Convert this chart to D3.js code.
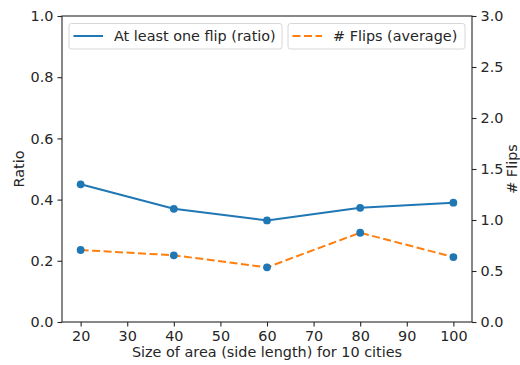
<!DOCTYPE html>
<html>
<head>
<meta charset="utf-8">
<script src="https://cdn.jsdelivr.net/npm/d3@7"></script>
<style>
  body { margin: 0; background: #fff; }
  svg text { font-family: "DejaVu Sans", sans-serif; fill: #262626; }
</style>
</head>
<body>
<div id="chart"></div>
<script>
// data
const sizes = [20, 40, 60, 80, 100];
const ratioVals = [0.450, 0.370, 0.332, 0.373, 0.390];
const flipVals = [0.706, 0.654, 0.536, 0.875, 0.637];
const xTicks = [20, 30, 40, 50, 60, 70, 80, 90, 100];
const leftTicks = [0, 0.2, 0.4, 0.6, 0.8, 1.0];
const rightTicks = [0, 0.5, 1.0, 1.5, 2.0, 2.5, 3.0];

const W = 520, H = 365;
const margin = {top: 16, right: 48, bottom: 43, left: 62};
const width = W - margin.left - margin.right,
      height = H - margin.top - margin.bottom;

const svg = d3.select("#chart").append("svg")
    .attr("width", W).attr("height", H);
const g = svg.append("g").attr("transform", "translate(" + margin.left + "," + margin.top + ")");

const x = d3.scaleLinear().domain([16, 104]).range([0, width]);
const yL = d3.scaleLinear().domain([0, 1]).range([height, 0]);
const yR = d3.scaleLinear().domain([0, 3]).range([height, 0]);

const fs = 14.4;
const dash = "8,3.5";
// axes
const xAxis = g.append("g").attr("transform", "translate(0," + height + ")")
    .call(d3.axisBottom(x).tickValues(xTicks).tickFormat(d3.format("d")).tickSizeOuter(0).tickSize(4.5).tickPadding(4));
const lAxis = g.append("g")
    .call(d3.axisLeft(yL).tickValues(leftTicks).tickFormat(d3.format(".1f")).tickSizeOuter(0).tickSize(4.5).tickPadding(4));
const rAxis = g.append("g").attr("transform", "translate(" + width + ",0)")
    .call(d3.axisRight(yR).tickValues(rightTicks).tickFormat(d3.format(".1f")).tickSizeOuter(0).tickSize(4.5).tickPadding(4));
[xAxis, lAxis, rAxis].forEach(a => {
  a.selectAll("text").style("font-size", fs + "px").style("font-family", "DejaVu Sans").attr("fill", "#262626");
  a.selectAll("line").attr("stroke", "#262626").attr("stroke-width", 1.1);
  a.select(".domain").remove();
});
// frame
g.append("rect").attr("width", width).attr("height", height)
    .attr("fill", "none").attr("stroke", "#262626").attr("stroke-width", 1.1);

// lines
const lineL = d3.line().x((d, i) => x(sizes[i])).y(d => yL(d));
const lineR = d3.line().x((d, i) => x(sizes[i])).y(d => yR(d));
g.append("path").datum(ratioVals).attr("d", lineL)
    .attr("fill", "none").attr("stroke", "#1f77b4").attr("stroke-width", 2);
g.append("path").datum(flipVals).attr("d", lineR)
    .attr("fill", "none").attr("stroke", "#ff7f0e").attr("stroke-width", 2)
    .attr("stroke-dasharray", dash);

// markers (both in blue)
g.selectAll(".mL").data(ratioVals).enter().append("circle")
    .attr("cx", (d, i) => x(sizes[i])).attr("cy", d => yL(d)).attr("r", 3.9).attr("fill", "#1f77b4");
g.selectAll(".mR").data(flipVals).enter().append("circle")
    .attr("cx", (d, i) => x(sizes[i])).attr("cy", d => yR(d)).attr("r", 3.9).attr("fill", "#1f77b4");

// axis labels
svg.append("text").attr("x", margin.left + width / 2).attr("y", 357)
    .attr("text-anchor", "middle").style("font-size", fs + "px")
    .text("Size of area (side length) for 10 cities");
svg.append("text").attr("transform", "translate(24," + (margin.top + height / 2) + ") rotate(-90)")
    .attr("text-anchor", "middle").style("font-size", fs + "px").text("Ratio");
svg.append("text").attr("transform", "translate(517," + (margin.top + height / 2) + ") rotate(-90)")
    .attr("text-anchor", "middle").style("font-size", fs + "px").text("# Flips");

// legends
function legend(x0, w, color, dsh, label) {
  const lg = svg.append("g").attr("transform", "translate(" + x0 + ",23.5)");
  lg.append("rect").attr("width", w).attr("height", 25.5).attr("rx", 2.5)
      .attr("fill", "#fff").attr("fill-opacity", 0.8).attr("stroke", "#d6d6d6");
  lg.append("line").attr("x1", 4.5).attr("x2", 34).attr("y1", 12.5).attr("y2", 12.5)
      .attr("stroke", color).attr("stroke-width", 2).attr("stroke-dasharray", dsh);
  lg.append("text").attr("x", 45).attr("y", 17.8).style("font-size", fs + "px").text(label);
}
legend(69, 213, "#1f77b4", null, "At least one flip (ratio)");
legend(288, 177, "#ff7f0e", dash, "# Flips (average)");
</script>
</body>
</html>
